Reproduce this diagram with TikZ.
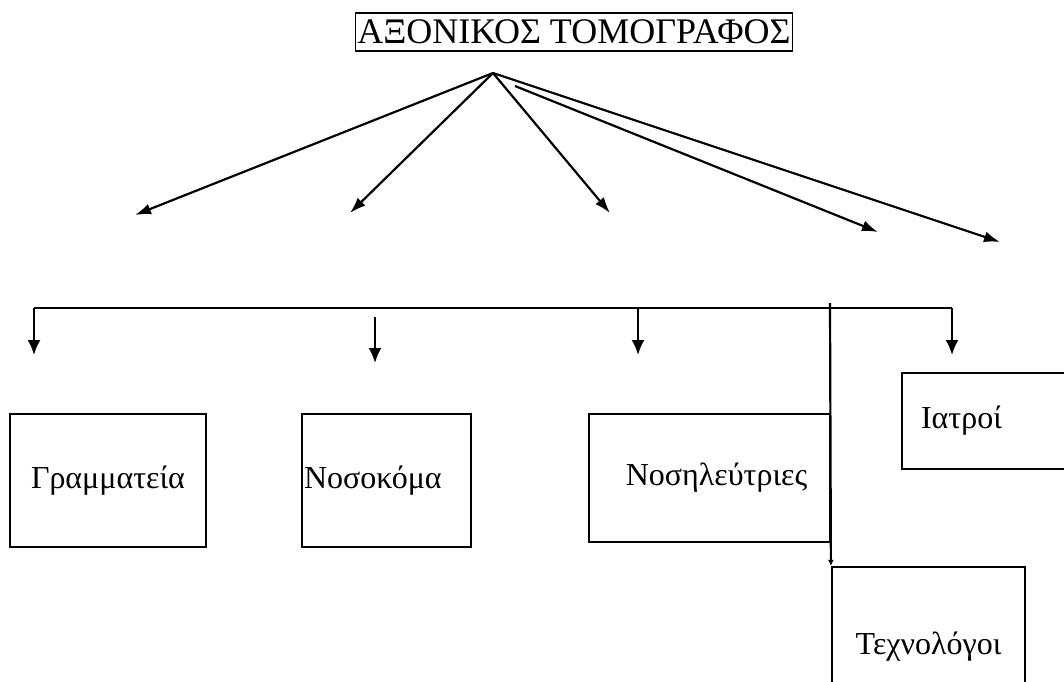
\documentclass[tikz,border=0pt]{standalone}
\usepackage{fontspec}
\setmainfont{Liberation Serif}
\usepackage{tikz}
\usetikzlibrary{arrows.meta}

\begin{document}
\begin{tikzpicture}[
	x=1pt, y=-1pt,
	line width=2.2pt,
	box/.style={
		shape=rectangle,
		draw=black,
		font=\fontsize{32}{36}\selectfont},
	fan/.style={-{Latex[length=16pt,width=11pt]}},
	drop/.style={-{Latex[length=15pt,width=13pt]}}
	]
	\useasboundingbox (0,0) rectangle (1064,681);
	\fill[white] (0,0) rectangle (1064,681);
	
	\node[box, inner sep=2pt, minimum height=38pt, line width=1.6pt, font=\fontsize{36}{38}\selectfont] (title) at (574,32) {ΑΞΟΝΙΚΟΣ ΤΟΜΟΓΡΑΦΟΣ};
	
	\coordinate (apex) at (493,73);
	\coordinate (apex2) at (515,86);
	\coordinate (f1) at (135,215);
	\coordinate (f2) at (350,213);
	\coordinate (f3) at (610,213);
	\coordinate (f4) at (878,232);
	\coordinate (f5) at (1000,242);
	\draw[fan] (apex) -- (f1);
	\draw[fan] (apex) -- (f2);
	\draw[fan] (apex) -- (f3);
	\draw[fan] (apex2) -- (f4);
	\draw[fan] (apex) -- (f5);
	
	\node[box, minimum width=196pt, minimum height=133pt] (gram) at (108,480.5) {Γραμματεία};
	\node[box, minimum width=169pt, minimum height=133pt, text width=165pt, inner sep=2pt, align=left] (nosok) at (386.5,480.5) {Νοσοκόμα};
	\node[box, minimum width=241pt, minimum height=128pt] (nosil) at (709.5,478) {\hspace{14pt}Νοσηλεύτριες};
	\node[box, minimum width=188pt, minimum height=96pt, text width=150pt, inner sep=18pt, align=left] (iatr) at (996,421) {\raisebox{-5pt}{Ιατροί}};
	\node[box, minimum width=193pt, minimum height=160pt] (tech) at (928.5,647) {Τεχνολόγοι};
	
	\coordinate (b1) at (34,308);
	\coordinate (b3) at (638,308);
	\coordinate (b4) at (952,308);
	\coordinate (d1) at (34,355);
	\coordinate (d3) at (638,355);
	\coordinate (d4) at (952,355);
	\coordinate (n1) at (375,317);
	\coordinate (n2) at (375,363);
	\coordinate (split) at (830,303);
	\draw[drop] (b1) -- (d1);
	\draw (b1) -- (b4);
	\draw[drop] (b3) -- (d3);
	\draw[drop] (b4) -- (d4);
	\draw[drop] (n1) -- (n2);
	\draw[-{Latex[length=6pt,width=6pt]}] (split) -- (tech.north west);
\end{tikzpicture}
\end{document}
